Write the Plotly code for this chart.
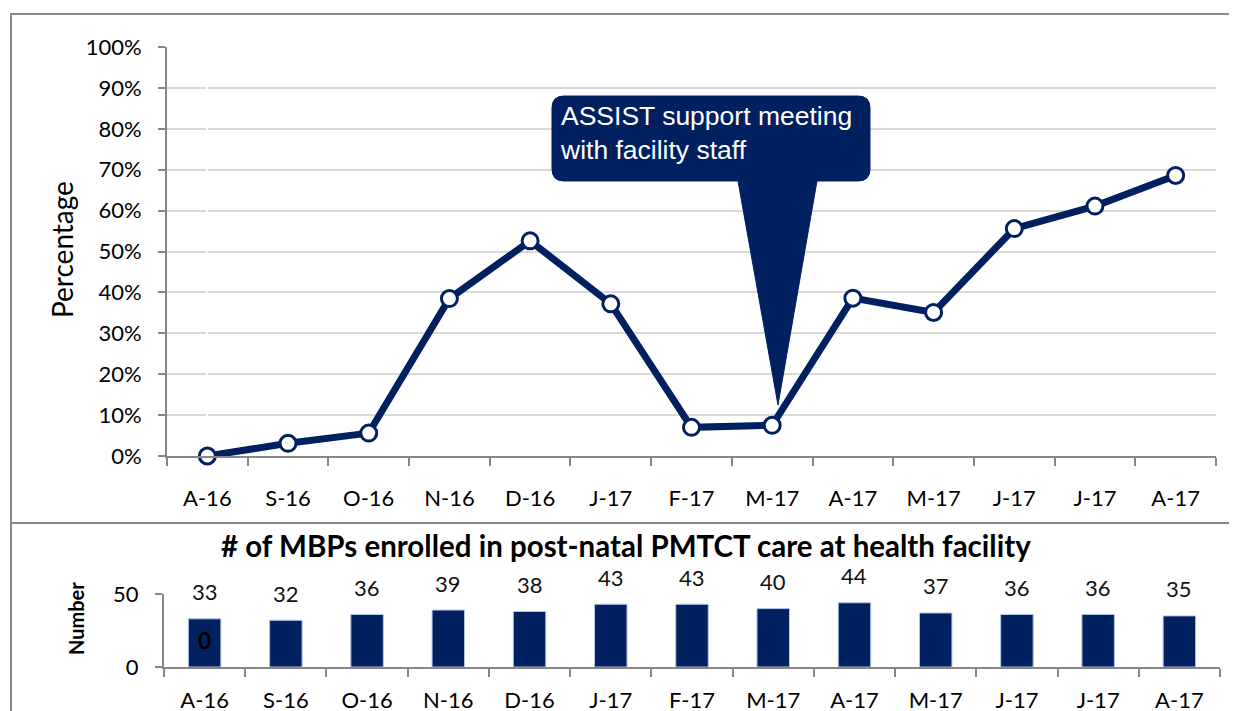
import plotly.graph_objects as go

# data
months = ["A-16", "S-16", "O-16", "N-16", "D-16", "J-17", "F-17",
          "M-17", "A-17", "M-17", "J-17", "J-17", "A-17"]
pct = [0.0, 0.031, 0.056, 0.385, 0.526, 0.372, 0.070,
       0.075, 0.386, 0.351, 0.556, 0.611, 0.686]
enrolled = [33, 32, 36, 39, 38, 43, 43, 40, 44, 37, 36, 36, 35]
pct_ticks = [i / 10 for i in range(11)]

W, H = 1237, 711
OFF = 8  # page body margin around the plot div
NAVY = "#002060"
GRID = "#d9d9d9"
AXIS = "#868686"
FONT = "Lato"


def px(x):
    return (x - OFF) / W


def py(y):
    return 1 - (y - OFF) / H


xs = list(range(len(months)))

fig = go.Figure()

# top: percentage line
fig.add_trace(go.Scatter(
    x=xs, y=pct, mode="lines+markers", xaxis="x", yaxis="y",
    line=dict(color=NAVY, width=7),
    marker=dict(symbol="circle", size=16, color="white",
                line=dict(color=NAVY, width=3)),
    cliponaxis=False, showlegend=False, hoverinfo="skip",
))

# bottom: enrolled bars
fig.add_trace(go.Bar(
    x=xs, y=enrolled, xaxis="x2", yaxis="y2", width=0.4,
    marker=dict(color=NAVY, line=dict(color="#b4c7e7", width=1)),
    showlegend=False, hoverinfo="skip",
))

ann = []
for i, v in zip(xs, enrolled):
    ann.append(dict(x=i, y=v, xref="x2", yref="y2", text=str(v),
                    showarrow=False, yshift=27, yanchor="middle",
                    font=dict(family=FONT, size=22, color="#111")))
# stray label inside the first bar
ann.append(dict(x=xs[0], y=enrolled[0], xref="x2", yref="y2", text="<b>0</b>",
                showarrow=False, yshift=-21, yanchor="middle",
                font=dict(family=FONT, size=23, color="black")))

ann += [
    dict(x=px(62), y=py(250), xref="paper", yref="paper", text="Percentage",
         textangle=-90, showarrow=False, xanchor="center", yanchor="middle",
         font=dict(family=FONT, size=28, color="black")),
    dict(x=px(76), y=py(619), xref="paper", yref="paper", text="<b>Number</b>",
         textangle=-90, showarrow=False, xanchor="center", yanchor="middle",
         font=dict(family=FONT, size=20, color="black")),
    dict(x=px(626), y=py(545), xref="paper", yref="paper",
         text="<b># of MBPs enrolled in post-natal PMTCT care at health facility</b>",
         showarrow=False, xanchor="center", yanchor="middle",
         font=dict(family=FONT, size=29.5, color="black")),
    dict(x=px(558), y=py(99), xref="paper", yref="paper", xanchor="left",
         yanchor="top", align="left",
         text="ASSIST support meeting<br>with facility staff",
         showarrow=False,
         font=dict(family="Liberation Sans, Arial", size=26.5, color="white")),
]

# callout bubble (rounded box with a tail down to M-17)
x0, x1, y0, y1, r = 552, 870, 96, 181, 12


def p(x, y):
    return f"{px(x):.5f},{py(y):.5f}"


callout = (
    f"M {p(x0 + r, y0)} L {p(x1 - r, y0)} Q {p(x1, y0)} {p(x1, y0 + r)} "
    f"L {p(x1, y1 - r)} Q {p(x1, y1)} {p(x1 - r, y1)} "
    f"L {p(817, y1)} L {p(778, 405)} L {p(738, y1)} "
    f"L {p(x0 + r, y1)} Q {p(x0, y1)} {p(x0, y1 - r)} "
    f"L {p(x0, y0 + r)} Q {p(x0, y0)} {p(x0 + r, y0)} Z"
)

shapes = [
    dict(type="rect", xref="paper", yref="paper", x0=px(11), x1=px(1260),
         y0=py(523), y1=py(14), line=dict(color="#898989", width=2)),
    dict(type="rect", xref="paper", yref="paper", x0=px(11), x1=px(1260),
         y0=py(760), y1=py(523), line=dict(color="#898989", width=2)),
    dict(type="path", xref="paper", yref="paper", path=callout,
         fillcolor=NAVY, line=dict(color=NAVY, width=1), layer="above"),
]

tickfont = dict(family=FONT, size=22, color="black")

fig.update_layout(
    width=W, height=H,
    margin=dict(l=0, r=0, t=0, b=0, autoexpand=False),
    paper_bgcolor="white", plot_bgcolor="white",
    annotations=ann, shapes=shapes,
    xaxis=dict(
        domain=[px(167), px(1216)], anchor="y", automargin=False,
        range=[-0.5, len(months) - 0.5],
        tickmode="array", tickvals=xs, ticktext=months, ticks="",
        minor=dict(tick0=-0.5, dtick=1, ticks="outside", ticklen=8,
                   tickwidth=2, tickcolor=AXIS, showgrid=False),
        showline=True, linecolor=AXIS, linewidth=2, showgrid=False,
        tickfont=tickfont, ticklabelstandoff=22,
    ),
    yaxis=dict(
        domain=[py(456), py(47)], anchor="x", automargin=False,
        range=[0, 1], tickmode="array", tickvals=pct_ticks, tickformat=".0%",
        ticks="outside", ticklen=7, tickwidth=2, tickcolor=AXIS,
        showline=True, linecolor=AXIS, linewidth=2,
        showgrid=True, gridcolor=GRID, gridwidth=2, zeroline=False,
        tickfont=tickfont, ticklabelstandoff=12,
    ),
    xaxis2=dict(
        domain=[px(164), px(1220)], anchor="y2", automargin=False,
        range=[-0.5, len(months) - 0.5],
        tickmode="array", tickvals=xs, ticktext=months, ticks="",
        minor=dict(tick0=-0.5, dtick=1, ticks="outside", ticklen=8,
                   tickwidth=2, tickcolor=AXIS, showgrid=False),
        showline=True, linecolor=AXIS, linewidth=2, showgrid=False,
        tickfont=tickfont, ticklabelstandoff=13,
    ),
    yaxis2=dict(
        domain=[py(667), py(594)], anchor="x2", automargin=False,
        range=[0, 50], tickmode="array", tickvals=[0, 50],
        ticks="outside", ticklen=7, tickwidth=2, tickcolor=AXIS,
        showline=True, linecolor=AXIS, linewidth=2,
        showgrid=True, gridcolor=GRID, gridwidth=2, zeroline=False,
        tickfont=tickfont, ticklabelstandoff=12,
    ),
)

fig.write_html("out.html")
